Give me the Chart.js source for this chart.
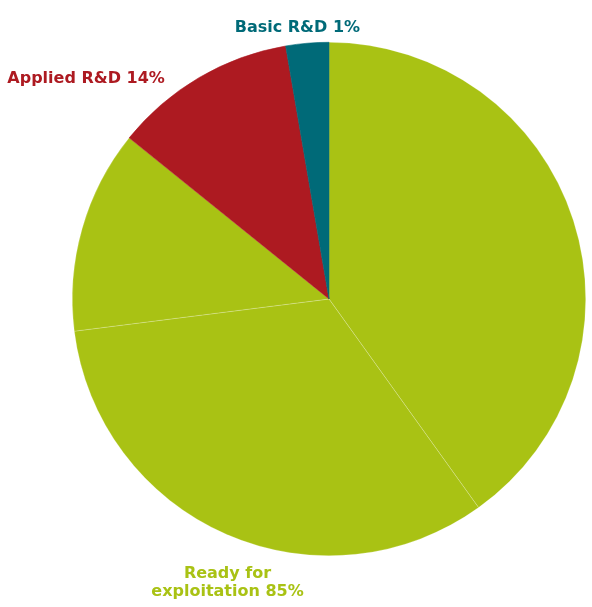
<!DOCTYPE html>
<html>
<head>
<meta charset="utf-8">
<script src="https://cdn.jsdelivr.net/npm/chart.js@4"></script>
<style>
  html, body { margin: 0; padding: 0; background: #fff; }
  #wrap { width: 592px; height: 607px; }
</style>
</head>
<body>
<div id="wrap"><canvas id="pie_chart"></canvas></div>
<script>
// slices, clockwise from 12 o'clock (share of the circle, %)
const sliceNames = ['Ready for exploitation A', 'Ready for exploitation B', 'Ready for exploitation C', 'Applied R&D', 'Basic R&D'];
const sliceValues = [40.1, 32.9, 12.8, 11.5, 2.7];
const sliceColors = ['#a9c214', '#a9c214', '#a9c214', '#ad1a21', '#006a78'];
const sliceBorders = ['rgba(255,255,255,0.35)', 'rgba(255,255,255,0.35)', 'rgba(255,255,255,0.35)', '#ad1a21', '#006a78'];

// text labels: which slice they hang off, and the text shown
const labelSlice = [4, 3, 1];
const labelLines = [['Basic R&D 1%'], ['Applied R&D 14%'], ['Ready for', 'exploitation 85%']];
const labelColors = ['#006a78', '#ad1a21', '#a9c214'];
const labelAlign = ['center', 'right', 'center'];
const labelNudge = [[-8, 7], [-23, 20], [10, 19]];

const sliceLabels = {
    id: 'sliceLabels',
    afterDraw(chart) {
        const ctx = chart.ctx;
        const arcs = chart.getDatasetMeta(0).data;
        ctx.save();
        ctx.font = 'bold 16px "DejaVu Sans", Verdana, sans-serif';
        ctx.textBaseline = 'middle';
        labelSlice.forEach((s, i) => {
            const a = arcs[s];
            const mid = (a.startAngle + a.endAngle) / 2;
            const r = a.outerRadius + 22;
            const x = a.x + Math.cos(mid) * r + labelNudge[i][0];
            const y = a.y + Math.sin(mid) * r + labelNudge[i][1];
            ctx.fillStyle = labelColors[i];
            ctx.textAlign = labelAlign[i];
            labelLines[i].forEach((t, j) => ctx.fillText(t, x, y + j * 18));
        });
        ctx.restore();
    }
};

(function pie_chart()
{
    const sample = document.getElementById('pie_chart');
    const myChart = new Chart(sample, {
        type: 'pie',
        data: {
            labels: sliceNames,
            datasets: [{
                data: sliceValues,
                backgroundColor: sliceColors,
                borderColor: sliceBorders,
                borderWidth: 0.6,
            }]
        },
        options: {
            responsive: true,
            maintainAspectRatio: false,
            animation: false,
            layout: {
                padding: { left: 72, right: 6, top: 42, bottom: 51 }
            },
            plugins: {
                legend: { display: false },
                tooltip: { enabled: false }
            }
        },
        plugins: [sliceLabels]
    });
})();
</script>
</body>
</html>
